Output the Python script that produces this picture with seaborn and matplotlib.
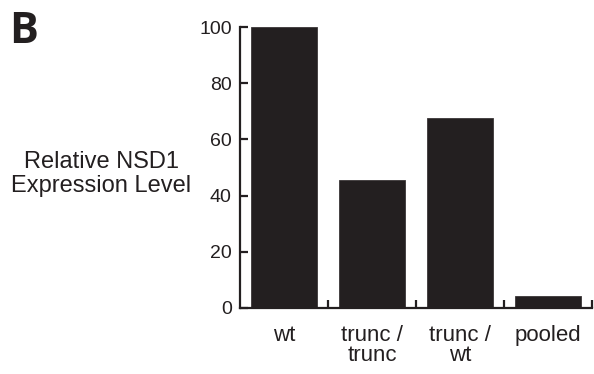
import matplotlib
matplotlib.use("Agg")
import matplotlib.pyplot as plt
import seaborn as sns
import pandas as pd

categories = ["wt", "trunc /\ntrunc", "trunc /\nwt", "pooled"]
values = [100, 45.4, 67.5, 4.4]
yticks = [0, 20, 40, 60, 80, 100]

sns.set_style("ticks")
plt.rcParams["font.family"] = ["Liberation Sans", "DejaVu Sans"]

df = pd.DataFrame({"group": categories, "value": values})

fig = plt.figure(figsize=(5.94, 3.74), dpi=100)
ax = fig.add_axes([240/594, 1-308/374, (592-240)/594, (308-27)/374])

sns.barplot(data=df, x="group", y="value", color="#231f20", width=0.74,
            saturation=1, edgecolor="#3a3637", linewidth=0.6, ax=ax)

ax.set_xlim(-0.5, 3.5)
ax.set_ylim(0, 100)
ax.set_yticks(yticks)
ax.set_yticklabels([str(t) for t in yticks], fontsize=14)
ax.set_xlabel("")
ax.set_ylabel("")
for s in ["top", "right"]:
    ax.spines[s].set_visible(False)
for s in ["left", "bottom"]:
    ax.spines[s].set_linewidth(1.6)
    ax.spines[s].set_color("#231f20")
    ax.spines[s].set_capstyle("projecting")

ax.tick_params(axis="y", direction="in", length=6, width=1.6, pad=6,
               colors="#231f20", labelcolor="#231f20")
ax.tick_params(axis="x", which="major", length=0, pad=12, labelsize=16,
               labelcolor="#231f20")
ax.set_xticks([0.5, 1.5, 2.5, 3.5], minor=True)
ax.tick_params(axis="x", which="minor", direction="in", length=5.5, width=1.6,
               color="#231f20")
for lab in ax.get_xticklabels():
    lab.set_linespacing(0.95)

fig.text(101/594, 1-174/374, "Relative NSD1\nExpression Level", fontsize=17,
         ha="center", va="center", multialignment="center", color="#231f20",
         linespacing=1.15)
fig.text(9/594, 1-43/374, "B", fontsize=31, fontweight="bold",
         family=["Open Sans", "DejaVu Sans"], ha="left", va="baseline", color="#231f20")

fig.savefig("out.png", dpi=100)
